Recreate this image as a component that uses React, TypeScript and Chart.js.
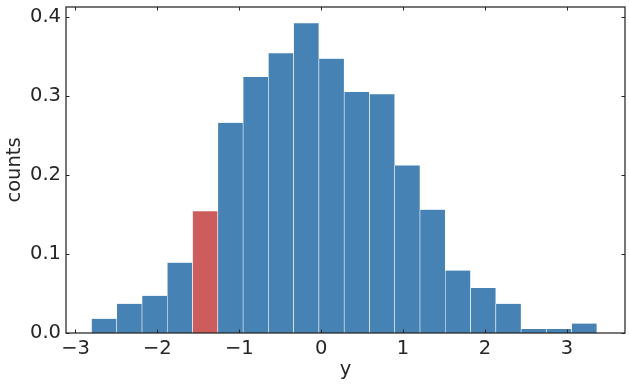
import React, { useEffect, useRef } from "react";
import { Chart, registerables } from "chart.js";
Chart.register(...registerables);

// Histogram bin edges (21 edges -> 20 bins)
const binEdges = [
  -2.805, -2.496, -2.188, -1.879, -1.571, -1.262, -0.953, -0.645, -0.336, -0.028,
  0.281, 0.59, 0.898, 1.207, 1.515, 1.824, 2.133, 2.441, 2.75, 3.058, 3.367,
];
// Density values per bin
const densities = [
  0.018, 0.037, 0.047, 0.089, 0.154, 0.266, 0.324, 0.354, 0.392, 0.347,
  0.305, 0.302, 0.212, 0.156, 0.079, 0.057, 0.037, 0.005, 0.005, 0.012,
];
const highlightBin = 4;
const xTicks = [-3, -2, -1, 0, 1, 2, 3];
const yTicks = [0, 0.1, 0.2, 0.3, 0.4];
const xLabel = "y";
const yLabel = "counts";

const BLUE = "#4682B4";
const RED = "#CD5C5C";
const INK = "#262626";
const FONT = "'DejaVu Sans', sans-serif";

const framePlugin = {
  id: "frameTicks",
  afterDraw(chart: any) {
    const { ctx, chartArea: a, scales } = chart;
    ctx.save();
    const L = 3.5;
    ctx.strokeStyle = INK;
    ctx.lineWidth = 1;
    ctx.beginPath();
    for (const v of xTicks) {
      const px = Math.round(scales.x.getPixelForValue(v)) + 0.5;
      ctx.moveTo(px, a.bottom);
      ctx.lineTo(px, a.bottom - L);
      ctx.moveTo(px, a.top);
      ctx.lineTo(px, a.top + L);
    }
    for (const v of yTicks) {
      const py = Math.round(scales.y.getPixelForValue(v)) + 0.5;
      ctx.moveTo(a.left, py);
      ctx.lineTo(a.left + L, py);
      ctx.moveTo(a.right, py);
      ctx.lineTo(a.right - L, py);
    }
    ctx.stroke();
    ctx.lineWidth = 1.25;
    ctx.strokeRect(a.left, a.top, a.right - a.left, a.bottom - a.top);
    ctx.restore();
  },
};

const fmtX = (v: number) => (v < 0 ? "\u2212" + Math.abs(v) : String(v));

export default function App() {
  const ref = useRef<HTMLCanvasElement | null>(null);
  useEffect(() => {
    document.body.style.margin = "0";
    const centers = densities.map((_, i) => (binEdges[i] + binEdges[i + 1]) / 2);
    const data = densities.map((d, i) => ({ x: centers[i], y: d }));
    const chart = new Chart(ref.current as HTMLCanvasElement, {
      type: "bar",
      data: {
        datasets: [
          {
            data: data as any,
            backgroundColor: densities.map((_, i) => (i === highlightBin ? RED : BLUE)),
            borderColor: "#ffffff",
            borderWidth: { left: 0.6, right: 0.6, top: 0, bottom: 0 } as any,
            borderSkipped: false as any,
            barPercentage: 1,
            categoryPercentage: 1,
          },
        ],
      },
      options: {
        animation: false,
        responsive: false,
        devicePixelRatio: 1,
        layout: { padding: { top: 7, right: 5, left: 0, bottom: 0 } },
        plugins: { legend: { display: false }, tooltip: { enabled: false } },
        scales: {
          x: {
            type: "linear",
            min: -3.116,
            max: 3.71,
            offset: false,
            grid: { display: false, drawTicks: false },
            border: { display: false },
            afterBuildTicks: (s: any) => {
              s.ticks = xTicks.map((v) => ({ value: v }));
            },
            afterFit: (s: any) => {
              s.height = 53;
              s.paddingLeft = 0;
              s.paddingRight = 0;
            },
            ticks: {
              autoSkip: false,
              maxRotation: 0,
              padding: 4,
              color: INK,
              font: { family: FONT, size: 19.5 },
              callback: (v: any) => fmtX(Number(v)),
            },
            title: {
              display: true,
              text: xLabel,
              color: INK,
              font: { family: FONT, size: 19.5 },
              padding: { top: 0, bottom: 4 },
            },
          },
          y: {
            min: 0,
            max: 0.4124,
            grid: { display: false, drawTicks: false },
            border: { display: false },
            afterBuildTicks: (s: any) => {
              s.ticks = yTicks.map((v) => ({ value: v }));
            },
            afterFit: (s: any) => {
              s.width = 66;
              s.paddingTop = 0;
              s.paddingBottom = 0;
            },
            ticks: {
              padding: 5,
              color: INK,
              font: { family: FONT, size: 19.5 },
              callback: (v: any) => Number(v).toFixed(1),
            },
            title: {
              display: true,
              text: yLabel,
              color: INK,
              font: { family: FONT, size: 19.5 },
              padding: { top: 3.5, bottom: 0 },
            },
          },
        },
      },
      plugins: [framePlugin],
    });
    return () => chart.destroy();
  }, []);
  return (
    <div style={{ position: "absolute", left: 0, top: 0, width: 630, height: 386, background: "#fff" }}>
      <canvas ref={ref} width={630} height={386} style={{ display: "block" }} />
    </div>
  );
}
